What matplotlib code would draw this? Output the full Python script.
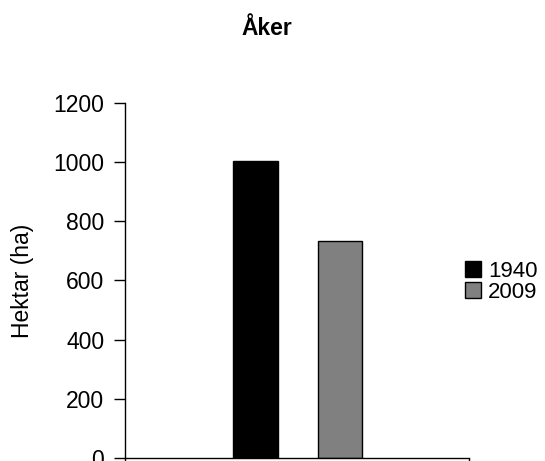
import numpy as np
import matplotlib.pyplot as plt
from matplotlib import font_manager

# Åker area, hectares
years = ["1940", "2009"]
hektar = [1004, 733]
colors = ["#000000", "#808080"]

plt.rcParams['font.family'] = ['Liberation Sans', 'DejaVu Sans']

# make sure the bold title uses the regular-width family, not the Narrow cut
bold_file = None
for f in font_manager.fontManager.ttflist:
    if (f.name == 'Liberation Sans' and f.weight in (700, 'bold')
            and f.style == 'normal' and 'narrow' not in f.fname.lower()):
        bold_file = f.fname
        break
title_font = font_manager.FontProperties(fname=bold_file, size=16.5) if bold_file \
    else font_manager.FontProperties(family='DejaVu Sans', weight='bold', size=15)

fig = plt.figure(figsize=(5.45, 4.61), dpi=100)
ax = fig.add_axes([0.2294, 0.0065, 0.6312, 0.7701])

pos = [0.38, 0.625]
bars = []
for p, v, c, lab in zip(pos, hektar, colors, years):
    b = ax.bar(p, v, width=0.13, color=c, edgecolor="black", linewidth=1, label=lab)
    bars.append(b)

ax.set_xlim(0, 1)
ax.set_ylim(0, 1200)
ax.set_yticks(np.arange(0, 1201, 200))
ax.set_xticks([0, 1])
ax.set_xticklabels([])
ax.tick_params(axis='y', direction='out', length=8, width=1, labelsize=16.5, pad=7)
ax.tick_params(axis='x', direction='out', length=5, width=1)
for side in ['top', 'right']:
    ax.spines[side].set_visible(False)
for side in ['left', 'bottom']:
    ax.spines[side].set_linewidth(1)

fig.text(22 / 545, 0.5 * (0.0065 + 0.7766), "Hektar (ha)", rotation=90,
         ha='center', va='center', fontsize=16.5)
fig.text(0.49, 0.939, "Åker", ha='center', va='center', fontproperties=title_font)

fig.legend(handles=bars, labels=years, loc='center left',
           bbox_to_anchor=(0.853, 0.389), frameon=False, fontsize=16,
           handlelength=0.72, handleheight=0.72, handletextpad=0.32,
           labelspacing=0.0, borderpad=0, borderaxespad=0)

fig.savefig("out.png", dpi=100)
